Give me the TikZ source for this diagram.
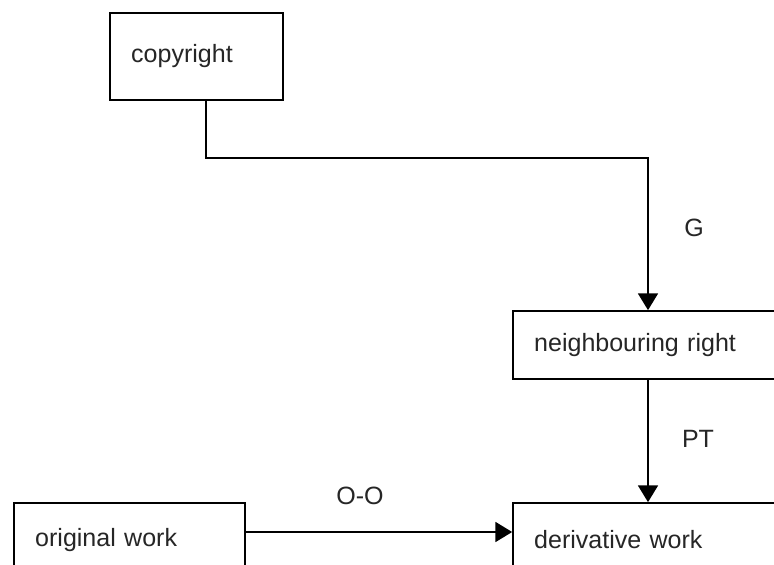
\documentclass[tikz,border=0pt]{standalone}
\usepackage{fontspec}
\setmainfont{Liberation Sans}
\usetikzlibrary{arrows.meta}
\pgfdeclarelayer{edgelayer}
\pgfdeclarelayer{nodelayer}
\pgfsetlayers{edgelayer,nodelayer,main}
\tikzstyle{none}=[inner sep=0pt,text=black!85,font=\fontsize{17.8}{20}\selectfont]
\tikzstyle{box}=[rectangle,fill=white,draw=black,line width=1.2pt,inner xsep=0.53cm,inner ysep=0pt,align=left,text=black!85,font=\fontsize{17.8}{20}\selectfont]
\tikzstyle{transition}=[-{Triangle[length=0.42cm,width=0.5cm]},draw=black,line width=1.2pt]
\tikzstyle{simple}=[-,draw=black,line width=1.2pt]

\begin{document}
\begin{tikzpicture}
	\useasboundingbox (0,0) rectangle (19.35,-14.125);
	\begin{pgfonlayer}{nodelayer}
		\node [style=box, text width=3.265cm, minimum width=4.325cm, minimum height=2.175cm] (0) at (4.9125, -1.4125) {copyright};
		\node [style=box, text width=5.69cm, minimum width=6.75cm, minimum height=1.7cm] (1) at (16.2, -8.625) {neighbouring right};
		\node [style=box, text width=4.715cm, minimum width=5.775cm, minimum height=1.85cm] (2) at (3.2375, -13.5) {original work};
		\node [style=box, text width=5.69cm, minimum width=6.75cm, minimum height=1.85cm] (3) at (16.2, -13.5) {derivative work};
		\node [style=none] (4) at (17.35, -5.7) {G};
		\node [style=none] (5) at (17.45, -10.975) {PT};
		\node [style=none] (6) at (9, -12.4) {O-O};
		\coordinate (7) at (5.15, -3.95);
		\coordinate (8) at (9, -13.3);
	\end{pgfonlayer}
	\begin{pgfonlayer}{edgelayer}
		\draw [style=transition] (7 |- 0.south) -- (7) -| (1.north);
		\draw [style=transition] (1) to (3);
		\draw [style=transition] (2.east |- 8) to (3.west |- 8);
	\end{pgfonlayer}
\end{tikzpicture}
\end{document}
